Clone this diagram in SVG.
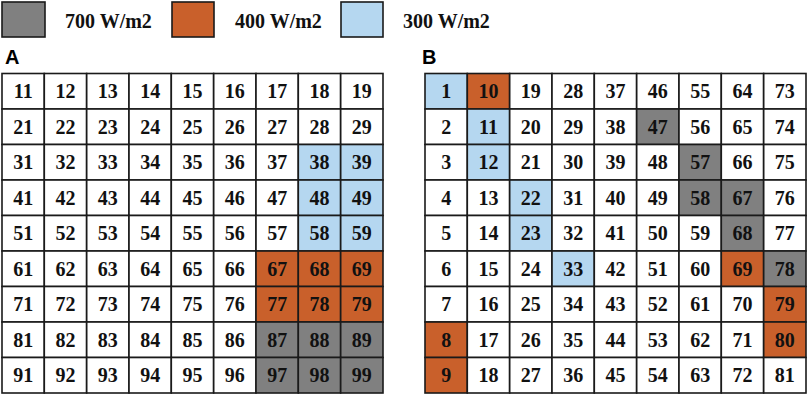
<svg xmlns="http://www.w3.org/2000/svg" width="809" height="396" viewBox="0 0 809 396">
<style>
.c{stroke:#1a1a1a;stroke-width:1.6;fill:#fff}
.g{fill:#808080}
.o{fill:#c9602b}
.b{fill:#b5d7f0}
.t{font-family:"Liberation Serif",serif;font-weight:bold;font-size:20px;fill:#111;text-anchor:middle}
.lt{font-family:"Liberation Serif",serif;font-weight:bold;font-size:20px;fill:#111}
.p{font-family:"Liberation Sans",Arial,sans-serif;font-weight:bold;font-size:20px;fill:#000}
</style>
<g id="legend">
<rect class="c g" x="2" y="2" width="43" height="35"/>
<text class="lt" x="65" y="28">700 W/m2</text>
<rect class="c o" x="172" y="2" width="42" height="35"/>
<text class="lt" x="235" y="28">400 W/m2</text>
<rect class="c b" x="341" y="2" width="42" height="35"/>
<text class="lt" x="403" y="28">300 W/m2</text>
</g>
<text class="p" x="5" y="64">A</text>
<text class="p" x="422" y="64">B</text>
<g id="gridA">
<g id="a11"><rect class="c" x="2.0" y="73.5" width="42.3" height="35.5"/><text class="t" x="23.2" y="98.2">11</text></g>
<g id="a12"><rect class="c" x="44.3" y="73.5" width="42.3" height="35.5"/><text class="t" x="65.5" y="98.2">12</text></g>
<g id="a13"><rect class="c" x="86.7" y="73.5" width="42.3" height="35.5"/><text class="t" x="107.8" y="98.2">13</text></g>
<g id="a14"><rect class="c" x="129.0" y="73.5" width="42.3" height="35.5"/><text class="t" x="150.2" y="98.2">14</text></g>
<g id="a15"><rect class="c" x="171.3" y="73.5" width="42.3" height="35.5"/><text class="t" x="192.5" y="98.2">15</text></g>
<g id="a16"><rect class="c" x="213.7" y="73.5" width="42.3" height="35.5"/><text class="t" x="234.8" y="98.2">16</text></g>
<g id="a17"><rect class="c" x="256.0" y="73.5" width="42.3" height="35.5"/><text class="t" x="277.2" y="98.2">17</text></g>
<g id="a18"><rect class="c" x="298.3" y="73.5" width="42.3" height="35.5"/><text class="t" x="319.5" y="98.2">18</text></g>
<g id="a19"><rect class="c" x="340.7" y="73.5" width="42.3" height="35.5"/><text class="t" x="361.8" y="98.2">19</text></g>
<g id="a21"><rect class="c" x="2.0" y="109.0" width="42.3" height="35.5"/><text class="t" x="23.2" y="133.7">21</text></g>
<g id="a22"><rect class="c" x="44.3" y="109.0" width="42.3" height="35.5"/><text class="t" x="65.5" y="133.7">22</text></g>
<g id="a23"><rect class="c" x="86.7" y="109.0" width="42.3" height="35.5"/><text class="t" x="107.8" y="133.7">23</text></g>
<g id="a24"><rect class="c" x="129.0" y="109.0" width="42.3" height="35.5"/><text class="t" x="150.2" y="133.7">24</text></g>
<g id="a25"><rect class="c" x="171.3" y="109.0" width="42.3" height="35.5"/><text class="t" x="192.5" y="133.7">25</text></g>
<g id="a26"><rect class="c" x="213.7" y="109.0" width="42.3" height="35.5"/><text class="t" x="234.8" y="133.7">26</text></g>
<g id="a27"><rect class="c" x="256.0" y="109.0" width="42.3" height="35.5"/><text class="t" x="277.2" y="133.7">27</text></g>
<g id="a28"><rect class="c" x="298.3" y="109.0" width="42.3" height="35.5"/><text class="t" x="319.5" y="133.7">28</text></g>
<g id="a29"><rect class="c" x="340.7" y="109.0" width="42.3" height="35.5"/><text class="t" x="361.8" y="133.7">29</text></g>
<g id="a31"><rect class="c" x="2.0" y="144.5" width="42.3" height="35.5"/><text class="t" x="23.2" y="169.2">31</text></g>
<g id="a32"><rect class="c" x="44.3" y="144.5" width="42.3" height="35.5"/><text class="t" x="65.5" y="169.2">32</text></g>
<g id="a33"><rect class="c" x="86.7" y="144.5" width="42.3" height="35.5"/><text class="t" x="107.8" y="169.2">33</text></g>
<g id="a34"><rect class="c" x="129.0" y="144.5" width="42.3" height="35.5"/><text class="t" x="150.2" y="169.2">34</text></g>
<g id="a35"><rect class="c" x="171.3" y="144.5" width="42.3" height="35.5"/><text class="t" x="192.5" y="169.2">35</text></g>
<g id="a36"><rect class="c" x="213.7" y="144.5" width="42.3" height="35.5"/><text class="t" x="234.8" y="169.2">36</text></g>
<g id="a37"><rect class="c" x="256.0" y="144.5" width="42.3" height="35.5"/><text class="t" x="277.2" y="169.2">37</text></g>
<g id="a38"><rect class="c b" x="298.3" y="144.5" width="42.3" height="35.5"/><text class="t" x="319.5" y="169.2">38</text></g>
<g id="a39"><rect class="c b" x="340.7" y="144.5" width="42.3" height="35.5"/><text class="t" x="361.8" y="169.2">39</text></g>
<g id="a41"><rect class="c" x="2.0" y="180.0" width="42.3" height="35.5"/><text class="t" x="23.2" y="204.7">41</text></g>
<g id="a42"><rect class="c" x="44.3" y="180.0" width="42.3" height="35.5"/><text class="t" x="65.5" y="204.7">42</text></g>
<g id="a43"><rect class="c" x="86.7" y="180.0" width="42.3" height="35.5"/><text class="t" x="107.8" y="204.7">43</text></g>
<g id="a44"><rect class="c" x="129.0" y="180.0" width="42.3" height="35.5"/><text class="t" x="150.2" y="204.7">44</text></g>
<g id="a45"><rect class="c" x="171.3" y="180.0" width="42.3" height="35.5"/><text class="t" x="192.5" y="204.7">45</text></g>
<g id="a46"><rect class="c" x="213.7" y="180.0" width="42.3" height="35.5"/><text class="t" x="234.8" y="204.7">46</text></g>
<g id="a47"><rect class="c" x="256.0" y="180.0" width="42.3" height="35.5"/><text class="t" x="277.2" y="204.7">47</text></g>
<g id="a48"><rect class="c b" x="298.3" y="180.0" width="42.3" height="35.5"/><text class="t" x="319.5" y="204.7">48</text></g>
<g id="a49"><rect class="c b" x="340.7" y="180.0" width="42.3" height="35.5"/><text class="t" x="361.8" y="204.7">49</text></g>
<g id="a51"><rect class="c" x="2.0" y="215.5" width="42.3" height="35.5"/><text class="t" x="23.2" y="240.2">51</text></g>
<g id="a52"><rect class="c" x="44.3" y="215.5" width="42.3" height="35.5"/><text class="t" x="65.5" y="240.2">52</text></g>
<g id="a53"><rect class="c" x="86.7" y="215.5" width="42.3" height="35.5"/><text class="t" x="107.8" y="240.2">53</text></g>
<g id="a54"><rect class="c" x="129.0" y="215.5" width="42.3" height="35.5"/><text class="t" x="150.2" y="240.2">54</text></g>
<g id="a55"><rect class="c" x="171.3" y="215.5" width="42.3" height="35.5"/><text class="t" x="192.5" y="240.2">55</text></g>
<g id="a56"><rect class="c" x="213.7" y="215.5" width="42.3" height="35.5"/><text class="t" x="234.8" y="240.2">56</text></g>
<g id="a57"><rect class="c" x="256.0" y="215.5" width="42.3" height="35.5"/><text class="t" x="277.2" y="240.2">57</text></g>
<g id="a58"><rect class="c b" x="298.3" y="215.5" width="42.3" height="35.5"/><text class="t" x="319.5" y="240.2">58</text></g>
<g id="a59"><rect class="c b" x="340.7" y="215.5" width="42.3" height="35.5"/><text class="t" x="361.8" y="240.2">59</text></g>
<g id="a61"><rect class="c" x="2.0" y="251.0" width="42.3" height="35.5"/><text class="t" x="23.2" y="275.7">61</text></g>
<g id="a62"><rect class="c" x="44.3" y="251.0" width="42.3" height="35.5"/><text class="t" x="65.5" y="275.7">62</text></g>
<g id="a63"><rect class="c" x="86.7" y="251.0" width="42.3" height="35.5"/><text class="t" x="107.8" y="275.7">63</text></g>
<g id="a64"><rect class="c" x="129.0" y="251.0" width="42.3" height="35.5"/><text class="t" x="150.2" y="275.7">64</text></g>
<g id="a65"><rect class="c" x="171.3" y="251.0" width="42.3" height="35.5"/><text class="t" x="192.5" y="275.7">65</text></g>
<g id="a66"><rect class="c" x="213.7" y="251.0" width="42.3" height="35.5"/><text class="t" x="234.8" y="275.7">66</text></g>
<g id="a67"><rect class="c o" x="256.0" y="251.0" width="42.3" height="35.5"/><text class="t" x="277.2" y="275.7">67</text></g>
<g id="a68"><rect class="c o" x="298.3" y="251.0" width="42.3" height="35.5"/><text class="t" x="319.5" y="275.7">68</text></g>
<g id="a69"><rect class="c o" x="340.7" y="251.0" width="42.3" height="35.5"/><text class="t" x="361.8" y="275.7">69</text></g>
<g id="a71"><rect class="c" x="2.0" y="286.5" width="42.3" height="35.5"/><text class="t" x="23.2" y="311.2">71</text></g>
<g id="a72"><rect class="c" x="44.3" y="286.5" width="42.3" height="35.5"/><text class="t" x="65.5" y="311.2">72</text></g>
<g id="a73"><rect class="c" x="86.7" y="286.5" width="42.3" height="35.5"/><text class="t" x="107.8" y="311.2">73</text></g>
<g id="a74"><rect class="c" x="129.0" y="286.5" width="42.3" height="35.5"/><text class="t" x="150.2" y="311.2">74</text></g>
<g id="a75"><rect class="c" x="171.3" y="286.5" width="42.3" height="35.5"/><text class="t" x="192.5" y="311.2">75</text></g>
<g id="a76"><rect class="c" x="213.7" y="286.5" width="42.3" height="35.5"/><text class="t" x="234.8" y="311.2">76</text></g>
<g id="a77"><rect class="c o" x="256.0" y="286.5" width="42.3" height="35.5"/><text class="t" x="277.2" y="311.2">77</text></g>
<g id="a78"><rect class="c o" x="298.3" y="286.5" width="42.3" height="35.5"/><text class="t" x="319.5" y="311.2">78</text></g>
<g id="a79"><rect class="c o" x="340.7" y="286.5" width="42.3" height="35.5"/><text class="t" x="361.8" y="311.2">79</text></g>
<g id="a81"><rect class="c" x="2.0" y="322.0" width="42.3" height="35.5"/><text class="t" x="23.2" y="346.7">81</text></g>
<g id="a82"><rect class="c" x="44.3" y="322.0" width="42.3" height="35.5"/><text class="t" x="65.5" y="346.7">82</text></g>
<g id="a83"><rect class="c" x="86.7" y="322.0" width="42.3" height="35.5"/><text class="t" x="107.8" y="346.7">83</text></g>
<g id="a84"><rect class="c" x="129.0" y="322.0" width="42.3" height="35.5"/><text class="t" x="150.2" y="346.7">84</text></g>
<g id="a85"><rect class="c" x="171.3" y="322.0" width="42.3" height="35.5"/><text class="t" x="192.5" y="346.7">85</text></g>
<g id="a86"><rect class="c" x="213.7" y="322.0" width="42.3" height="35.5"/><text class="t" x="234.8" y="346.7">86</text></g>
<g id="a87"><rect class="c g" x="256.0" y="322.0" width="42.3" height="35.5"/><text class="t" x="277.2" y="346.7">87</text></g>
<g id="a88"><rect class="c g" x="298.3" y="322.0" width="42.3" height="35.5"/><text class="t" x="319.5" y="346.7">88</text></g>
<g id="a89"><rect class="c g" x="340.7" y="322.0" width="42.3" height="35.5"/><text class="t" x="361.8" y="346.7">89</text></g>
<g id="a91"><rect class="c" x="2.0" y="357.5" width="42.3" height="35.5"/><text class="t" x="23.2" y="382.2">91</text></g>
<g id="a92"><rect class="c" x="44.3" y="357.5" width="42.3" height="35.5"/><text class="t" x="65.5" y="382.2">92</text></g>
<g id="a93"><rect class="c" x="86.7" y="357.5" width="42.3" height="35.5"/><text class="t" x="107.8" y="382.2">93</text></g>
<g id="a94"><rect class="c" x="129.0" y="357.5" width="42.3" height="35.5"/><text class="t" x="150.2" y="382.2">94</text></g>
<g id="a95"><rect class="c" x="171.3" y="357.5" width="42.3" height="35.5"/><text class="t" x="192.5" y="382.2">95</text></g>
<g id="a96"><rect class="c" x="213.7" y="357.5" width="42.3" height="35.5"/><text class="t" x="234.8" y="382.2">96</text></g>
<g id="a97"><rect class="c g" x="256.0" y="357.5" width="42.3" height="35.5"/><text class="t" x="277.2" y="382.2">97</text></g>
<g id="a98"><rect class="c g" x="298.3" y="357.5" width="42.3" height="35.5"/><text class="t" x="319.5" y="382.2">98</text></g>
<g id="a99"><rect class="c g" x="340.7" y="357.5" width="42.3" height="35.5"/><text class="t" x="361.8" y="382.2">99</text></g>
</g>
<g id="gridB">
<g id="b1"><rect class="c b" x="425.0" y="73.5" width="42.3" height="35.5"/><text class="t" x="446.2" y="98.2">1</text></g>
<g id="b2"><rect class="c" x="425.0" y="109.0" width="42.3" height="35.5"/><text class="t" x="446.2" y="133.7">2</text></g>
<g id="b3"><rect class="c" x="425.0" y="144.5" width="42.3" height="35.5"/><text class="t" x="446.2" y="169.2">3</text></g>
<g id="b4"><rect class="c" x="425.0" y="180.0" width="42.3" height="35.5"/><text class="t" x="446.2" y="204.7">4</text></g>
<g id="b5"><rect class="c" x="425.0" y="215.5" width="42.3" height="35.5"/><text class="t" x="446.2" y="240.2">5</text></g>
<g id="b6"><rect class="c" x="425.0" y="251.0" width="42.3" height="35.5"/><text class="t" x="446.2" y="275.7">6</text></g>
<g id="b7"><rect class="c" x="425.0" y="286.5" width="42.3" height="35.5"/><text class="t" x="446.2" y="311.2">7</text></g>
<g id="b8"><rect class="c o" x="425.0" y="322.0" width="42.3" height="35.5"/><text class="t" x="446.2" y="346.7">8</text></g>
<g id="b9"><rect class="c o" x="425.0" y="357.5" width="42.3" height="35.5"/><text class="t" x="446.2" y="382.2">9</text></g>
<g id="b10"><rect class="c o" x="467.3" y="73.5" width="42.3" height="35.5"/><text class="t" x="488.5" y="98.2">10</text></g>
<g id="b11"><rect class="c b" x="467.3" y="109.0" width="42.3" height="35.5"/><text class="t" x="488.5" y="133.7">11</text></g>
<g id="b12"><rect class="c b" x="467.3" y="144.5" width="42.3" height="35.5"/><text class="t" x="488.5" y="169.2">12</text></g>
<g id="b13"><rect class="c" x="467.3" y="180.0" width="42.3" height="35.5"/><text class="t" x="488.5" y="204.7">13</text></g>
<g id="b14"><rect class="c" x="467.3" y="215.5" width="42.3" height="35.5"/><text class="t" x="488.5" y="240.2">14</text></g>
<g id="b15"><rect class="c" x="467.3" y="251.0" width="42.3" height="35.5"/><text class="t" x="488.5" y="275.7">15</text></g>
<g id="b16"><rect class="c" x="467.3" y="286.5" width="42.3" height="35.5"/><text class="t" x="488.5" y="311.2">16</text></g>
<g id="b17"><rect class="c" x="467.3" y="322.0" width="42.3" height="35.5"/><text class="t" x="488.5" y="346.7">17</text></g>
<g id="b18"><rect class="c" x="467.3" y="357.5" width="42.3" height="35.5"/><text class="t" x="488.5" y="382.2">18</text></g>
<g id="b19"><rect class="c" x="509.7" y="73.5" width="42.3" height="35.5"/><text class="t" x="530.8" y="98.2">19</text></g>
<g id="b20"><rect class="c" x="509.7" y="109.0" width="42.3" height="35.5"/><text class="t" x="530.8" y="133.7">20</text></g>
<g id="b21"><rect class="c" x="509.7" y="144.5" width="42.3" height="35.5"/><text class="t" x="530.8" y="169.2">21</text></g>
<g id="b22"><rect class="c b" x="509.7" y="180.0" width="42.3" height="35.5"/><text class="t" x="530.8" y="204.7">22</text></g>
<g id="b23"><rect class="c b" x="509.7" y="215.5" width="42.3" height="35.5"/><text class="t" x="530.8" y="240.2">23</text></g>
<g id="b24"><rect class="c" x="509.7" y="251.0" width="42.3" height="35.5"/><text class="t" x="530.8" y="275.7">24</text></g>
<g id="b25"><rect class="c" x="509.7" y="286.5" width="42.3" height="35.5"/><text class="t" x="530.8" y="311.2">25</text></g>
<g id="b26"><rect class="c" x="509.7" y="322.0" width="42.3" height="35.5"/><text class="t" x="530.8" y="346.7">26</text></g>
<g id="b27"><rect class="c" x="509.7" y="357.5" width="42.3" height="35.5"/><text class="t" x="530.8" y="382.2">27</text></g>
<g id="b28"><rect class="c" x="552.0" y="73.5" width="42.3" height="35.5"/><text class="t" x="573.2" y="98.2">28</text></g>
<g id="b29"><rect class="c" x="552.0" y="109.0" width="42.3" height="35.5"/><text class="t" x="573.2" y="133.7">29</text></g>
<g id="b30"><rect class="c" x="552.0" y="144.5" width="42.3" height="35.5"/><text class="t" x="573.2" y="169.2">30</text></g>
<g id="b31"><rect class="c" x="552.0" y="180.0" width="42.3" height="35.5"/><text class="t" x="573.2" y="204.7">31</text></g>
<g id="b32"><rect class="c" x="552.0" y="215.5" width="42.3" height="35.5"/><text class="t" x="573.2" y="240.2">32</text></g>
<g id="b33"><rect class="c b" x="552.0" y="251.0" width="42.3" height="35.5"/><text class="t" x="573.2" y="275.7">33</text></g>
<g id="b34"><rect class="c" x="552.0" y="286.5" width="42.3" height="35.5"/><text class="t" x="573.2" y="311.2">34</text></g>
<g id="b35"><rect class="c" x="552.0" y="322.0" width="42.3" height="35.5"/><text class="t" x="573.2" y="346.7">35</text></g>
<g id="b36"><rect class="c" x="552.0" y="357.5" width="42.3" height="35.5"/><text class="t" x="573.2" y="382.2">36</text></g>
<g id="b37"><rect class="c" x="594.3" y="73.5" width="42.3" height="35.5"/><text class="t" x="615.5" y="98.2">37</text></g>
<g id="b38"><rect class="c" x="594.3" y="109.0" width="42.3" height="35.5"/><text class="t" x="615.5" y="133.7">38</text></g>
<g id="b39"><rect class="c" x="594.3" y="144.5" width="42.3" height="35.5"/><text class="t" x="615.5" y="169.2">39</text></g>
<g id="b40"><rect class="c" x="594.3" y="180.0" width="42.3" height="35.5"/><text class="t" x="615.5" y="204.7">40</text></g>
<g id="b41"><rect class="c" x="594.3" y="215.5" width="42.3" height="35.5"/><text class="t" x="615.5" y="240.2">41</text></g>
<g id="b42"><rect class="c" x="594.3" y="251.0" width="42.3" height="35.5"/><text class="t" x="615.5" y="275.7">42</text></g>
<g id="b43"><rect class="c" x="594.3" y="286.5" width="42.3" height="35.5"/><text class="t" x="615.5" y="311.2">43</text></g>
<g id="b44"><rect class="c" x="594.3" y="322.0" width="42.3" height="35.5"/><text class="t" x="615.5" y="346.7">44</text></g>
<g id="b45"><rect class="c" x="594.3" y="357.5" width="42.3" height="35.5"/><text class="t" x="615.5" y="382.2">45</text></g>
<g id="b46"><rect class="c" x="636.7" y="73.5" width="42.3" height="35.5"/><text class="t" x="657.8" y="98.2">46</text></g>
<g id="b47"><rect class="c g" x="636.7" y="109.0" width="42.3" height="35.5"/><text class="t" x="657.8" y="133.7">47</text></g>
<g id="b48"><rect class="c" x="636.7" y="144.5" width="42.3" height="35.5"/><text class="t" x="657.8" y="169.2">48</text></g>
<g id="b49"><rect class="c" x="636.7" y="180.0" width="42.3" height="35.5"/><text class="t" x="657.8" y="204.7">49</text></g>
<g id="b50"><rect class="c" x="636.7" y="215.5" width="42.3" height="35.5"/><text class="t" x="657.8" y="240.2">50</text></g>
<g id="b51"><rect class="c" x="636.7" y="251.0" width="42.3" height="35.5"/><text class="t" x="657.8" y="275.7">51</text></g>
<g id="b52"><rect class="c" x="636.7" y="286.5" width="42.3" height="35.5"/><text class="t" x="657.8" y="311.2">52</text></g>
<g id="b53"><rect class="c" x="636.7" y="322.0" width="42.3" height="35.5"/><text class="t" x="657.8" y="346.7">53</text></g>
<g id="b54"><rect class="c" x="636.7" y="357.5" width="42.3" height="35.5"/><text class="t" x="657.8" y="382.2">54</text></g>
<g id="b55"><rect class="c" x="679.0" y="73.5" width="42.3" height="35.5"/><text class="t" x="700.2" y="98.2">55</text></g>
<g id="b56"><rect class="c" x="679.0" y="109.0" width="42.3" height="35.5"/><text class="t" x="700.2" y="133.7">56</text></g>
<g id="b57"><rect class="c g" x="679.0" y="144.5" width="42.3" height="35.5"/><text class="t" x="700.2" y="169.2">57</text></g>
<g id="b58"><rect class="c g" x="679.0" y="180.0" width="42.3" height="35.5"/><text class="t" x="700.2" y="204.7">58</text></g>
<g id="b59"><rect class="c" x="679.0" y="215.5" width="42.3" height="35.5"/><text class="t" x="700.2" y="240.2">59</text></g>
<g id="b60"><rect class="c" x="679.0" y="251.0" width="42.3" height="35.5"/><text class="t" x="700.2" y="275.7">60</text></g>
<g id="b61"><rect class="c" x="679.0" y="286.5" width="42.3" height="35.5"/><text class="t" x="700.2" y="311.2">61</text></g>
<g id="b62"><rect class="c" x="679.0" y="322.0" width="42.3" height="35.5"/><text class="t" x="700.2" y="346.7">62</text></g>
<g id="b63"><rect class="c" x="679.0" y="357.5" width="42.3" height="35.5"/><text class="t" x="700.2" y="382.2">63</text></g>
<g id="b64"><rect class="c" x="721.3" y="73.5" width="42.3" height="35.5"/><text class="t" x="742.5" y="98.2">64</text></g>
<g id="b65"><rect class="c" x="721.3" y="109.0" width="42.3" height="35.5"/><text class="t" x="742.5" y="133.7">65</text></g>
<g id="b66"><rect class="c" x="721.3" y="144.5" width="42.3" height="35.5"/><text class="t" x="742.5" y="169.2">66</text></g>
<g id="b67"><rect class="c g" x="721.3" y="180.0" width="42.3" height="35.5"/><text class="t" x="742.5" y="204.7">67</text></g>
<g id="b68"><rect class="c g" x="721.3" y="215.5" width="42.3" height="35.5"/><text class="t" x="742.5" y="240.2">68</text></g>
<g id="b69"><rect class="c o" x="721.3" y="251.0" width="42.3" height="35.5"/><text class="t" x="742.5" y="275.7">69</text></g>
<g id="b70"><rect class="c" x="721.3" y="286.5" width="42.3" height="35.5"/><text class="t" x="742.5" y="311.2">70</text></g>
<g id="b71"><rect class="c" x="721.3" y="322.0" width="42.3" height="35.5"/><text class="t" x="742.5" y="346.7">71</text></g>
<g id="b72"><rect class="c" x="721.3" y="357.5" width="42.3" height="35.5"/><text class="t" x="742.5" y="382.2">72</text></g>
<g id="b73"><rect class="c" x="763.7" y="73.5" width="42.3" height="35.5"/><text class="t" x="784.8" y="98.2">73</text></g>
<g id="b74"><rect class="c" x="763.7" y="109.0" width="42.3" height="35.5"/><text class="t" x="784.8" y="133.7">74</text></g>
<g id="b75"><rect class="c" x="763.7" y="144.5" width="42.3" height="35.5"/><text class="t" x="784.8" y="169.2">75</text></g>
<g id="b76"><rect class="c" x="763.7" y="180.0" width="42.3" height="35.5"/><text class="t" x="784.8" y="204.7">76</text></g>
<g id="b77"><rect class="c" x="763.7" y="215.5" width="42.3" height="35.5"/><text class="t" x="784.8" y="240.2">77</text></g>
<g id="b78"><rect class="c g" x="763.7" y="251.0" width="42.3" height="35.5"/><text class="t" x="784.8" y="275.7">78</text></g>
<g id="b79"><rect class="c o" x="763.7" y="286.5" width="42.3" height="35.5"/><text class="t" x="784.8" y="311.2">79</text></g>
<g id="b80"><rect class="c o" x="763.7" y="322.0" width="42.3" height="35.5"/><text class="t" x="784.8" y="346.7">80</text></g>
<g id="b81"><rect class="c" x="763.7" y="357.5" width="42.3" height="35.5"/><text class="t" x="784.8" y="382.2">81</text></g>
</g>
</svg>
